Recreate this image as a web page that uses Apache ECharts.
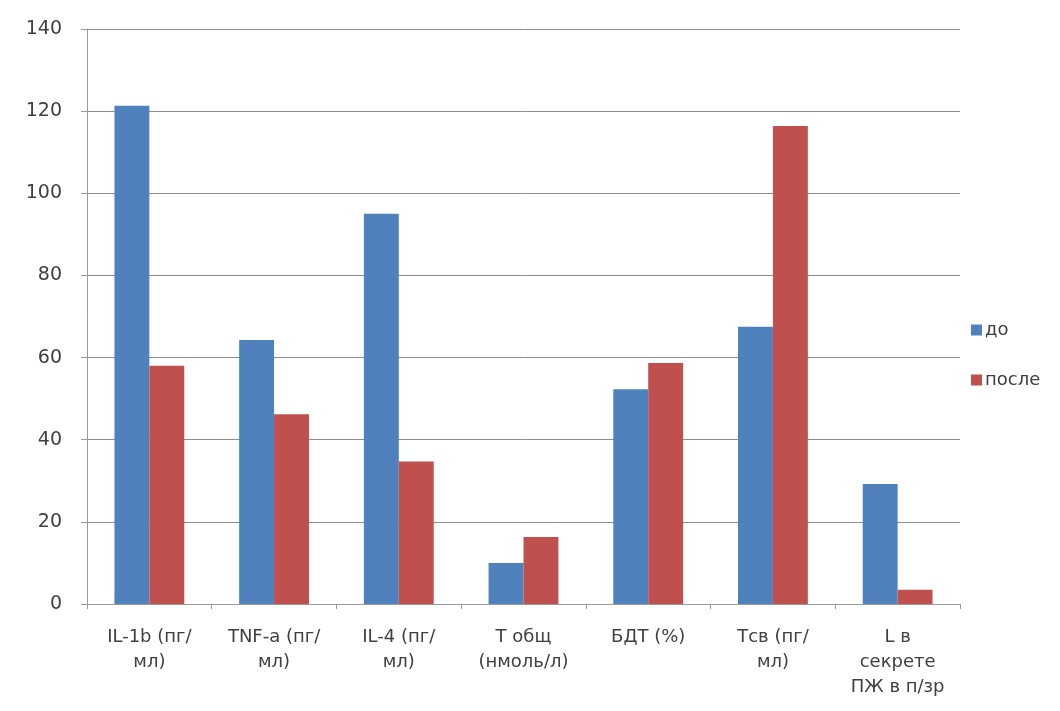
<!DOCTYPE html>
<html>
<head>
<meta charset="utf-8">
<script src="https://cdn.jsdelivr.net/npm/echarts@6/dist/echarts.min.js"></script>
<style>
  html, body { margin: 0; padding: 0; background: #fff; }
  #chart { width: 1060px; height: 711px; }
</style>
</head>
<body>
<div id="chart"></div>
<script>
// Indicators before and after treatment
const categories = [
  'IL-1b (пг/\nмл)',
  'TNF-a (пг/\nмл)',
  'IL-4 (пг/\nмл)',
  'Т общ\n(нмоль/л)',
  'БДТ (%)',
  'Тсв (пг/\nмл)',
  'L в\nсекрете\nПЖ в п/зр'
];
const seriesNames = ['до', 'после'];
const valuesBefore = [121.3, 64.3, 95.0, 10.0, 52.3, 67.5, 29.2];
const valuesAfter = [58.0, 46.2, 34.7, 16.3, 58.7, 116.4, 3.5];
const yTicks = { min: 0, max: 140, interval: 20 };

const textColor = '#404040';
const fontFamily = '"DejaVu Sans", "Open Sans", sans-serif';

const chart = echarts.init(document.getElementById('chart'), null, { renderer: 'canvas' });
chart.setOption({
  animation: false,
  backgroundColor: '#ffffff',
  textStyle: { fontFamily: fontFamily },
  grid: { left: 87, right: 100, top: 29, bottom: 107, containLabel: false },
  legend: {
    orient: 'vertical',
    left: 966,
    top: 316,
    itemWidth: 11,
    itemHeight: 11,
    itemGap: 32,
    icon: 'rect',
    data: seriesNames,
    textStyle: { color: textColor, fontSize: 18, fontFamily: fontFamily, padding: [4, 0, 0, -2] }
  },
  xAxis: {
    type: 'category',
    data: categories,
    boundaryGap: true,
    axisLine: { show: true, lineStyle: { color: '#9a9a9a', width: 1 } },
    axisTick: { show: true, length: 5, alignWithLabel: false, lineStyle: { color: '#9a9a9a' } },
    axisLabel: {
      color: textColor,
      fontSize: 18,
      lineHeight: 25,
      margin: 21,
      interval: 0,
      fontFamily: fontFamily
    }
  },
  yAxis: {
    type: 'value',
    min: yTicks.min,
    max: yTicks.max,
    interval: yTicks.interval,
    axisLine: { show: true, lineStyle: { color: '#9a9a9a', width: 1 } },
    axisTick: { show: true, length: 6, lineStyle: { color: '#9a9a9a' } },
    axisLabel: { color: textColor, fontSize: 19, margin: 25, fontFamily: fontFamily },
    splitLine: { show: true, lineStyle: { color: '#8c8c8c', width: 1 } }
  },
  series: [
    {
      name: seriesNames[0],
      type: 'bar',
      data: valuesBefore,
      barGap: '0%',
      barCategoryGap: '44%',
      itemStyle: { color: '#4f81bd' }
    },
    {
      name: seriesNames[1],
      type: 'bar',
      data: valuesAfter,
      barGap: '0%',
      barCategoryGap: '44%',
      itemStyle: { color: '#c0504d' }
    }
  ]
});
</script>
</body>
</html>
